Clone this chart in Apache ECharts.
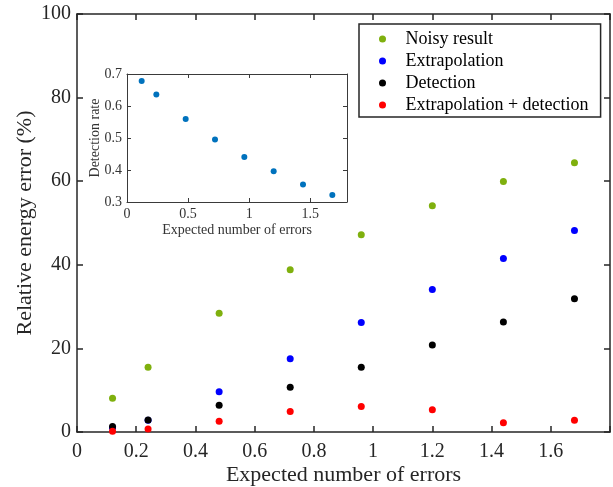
<!DOCTYPE html>
<html>
<head>
<meta charset="utf-8">
<script src="https://cdn.jsdelivr.net/npm/echarts@6/dist/echarts.min.js"></script>
<style>
html,body{margin:0;padding:0;background:#fff;}
#chart{width:613px;height:487px;}
</style>
</head>
<body>
<div id="chart"></div>
<script>
const xVals = [0.12, 0.24, 0.48, 0.72, 0.96, 1.2, 1.44, 1.68];
const noisy = [8.1, 15.5, 28.4, 38.8, 47.2, 54.1, 59.9, 64.4];
const extrap = [1.0, 2.8, 9.6, 17.5, 26.2, 34.1, 41.5, 48.2];
const detect = [1.3, 2.9, 6.4, 10.7, 15.5, 20.8, 26.3, 31.9];
const both = [0.2, 0.7, 2.6, 4.9, 6.1, 5.3, 2.2, 2.8];
const rate = [0.678, 0.636, 0.559, 0.495, 0.441, 0.396, 0.355, 0.322];
const seriesNames = ['Noisy result', 'Extrapolation', 'Detection', 'Extrapolation + detection'];

const pair = arr => xVals.map((x, i) => [x, arr[i]]);
const FONT = '"Liberation Serif", "Times New Roman", serif';
const AX = '#262626';

const mainAxisCommon = {
  type: 'value', gridIndex: 0,
  nameMoveOverlap: false,
  splitLine: {show: false},
  axisLine: {show: true, onZero: false, lineStyle: {color: AX, width: 1.5}},
  axisTick: {show: true, inside: true, length: 6, lineStyle: {color: AX, width: 1.5}}
};
const insetAxisCommon = {
  type: 'value', gridIndex: 1,
  nameMoveOverlap: false,
  splitLine: {show: false},
  axisLine: {show: true, onZero: false, lineStyle: {color: '#3a3a3a', width: 1}},
  axisTick: {show: true, inside: true, length: 4, lineStyle: {color: '#3a3a3a', width: 1}}
};

const chart = echarts.init(document.getElementById('chart'), null, {renderer: 'canvas'});
chart.setOption({
  backgroundColor: '#fff',
  animation: false,
  textStyle: {fontFamily: FONT},
  grid: [
    {left: 77, top: 14, right: 3, bottom: 55, containLabel: false, outerBoundsMode: 'none'},
    {left: 127, top: 74, right: 266, bottom: 285, containLabel: false, outerBoundsMode: 'none'}
  ],
  legend: {
    data: seriesNames,
    orient: 'vertical',
    left: 359, top: 24,
    padding: [6, 12, 3, 20],
    itemWidth: 36, itemHeight: 7, itemGap: 4,
    icon: 'circle',
    borderColor: AX, borderWidth: 1.5,
    backgroundColor: '#fff',
    textStyle: {fontFamily: FONT, fontSize: 18, color: '#000', lineHeight: 18},
    z: 10
  },
  xAxis: [
    Object.assign({}, mainAxisCommon, {
      position: 'bottom', min: 0, max: 1.8, interval: 0.2,
      name: 'Expected number of errors', nameLocation: 'middle', nameGap: 32,
      nameTextStyle: {fontFamily: FONT, fontSize: 22, color: AX},
      axisLabel: {fontFamily: FONT, fontSize: 20, color: AX, margin: 10,
        formatter: v => (v > 1.75 ? '' : String(+v.toFixed(1)))}
    }),
    Object.assign({}, mainAxisCommon, {
      position: 'top', min: 0, max: 1.8, interval: 0.2, axisLabel: {show: false}
    }),
    Object.assign({}, insetAxisCommon, {
      position: 'bottom', min: 0, max: 1.8, interval: 0.5,
      name: 'Expected number of errors', nameLocation: 'middle', nameGap: 21,
      nameTextStyle: {fontFamily: FONT, fontSize: 14, color: '#333'},
      axisLabel: {fontFamily: FONT, fontSize: 14, color: '#333', margin: 5,
        formatter: v => (Math.abs(v * 2 - Math.round(v * 2)) > 1e-6 ? '' : String(+v.toFixed(1)))}
    }),
    Object.assign({}, insetAxisCommon, {
      position: 'top', min: 0, max: 1.8, interval: 0.5, axisLabel: {show: false}
    })
  ],
  yAxis: [
    Object.assign({}, mainAxisCommon, {
      position: 'left', min: 0, max: 100, interval: 20,
      name: 'Relative energy error (%)', nameLocation: 'middle', nameGap: 41,
      nameTextStyle: {fontFamily: FONT, fontSize: 22, color: AX},
      axisLabel: {fontFamily: FONT, fontSize: 20, color: AX, margin: 6}
    }),
    Object.assign({}, mainAxisCommon, {
      position: 'right', min: 0, max: 100, interval: 20, axisLabel: {show: false}
    }),
    Object.assign({}, insetAxisCommon, {
      position: 'left', min: 0.3, max: 0.7, interval: 0.1,
      name: 'Detection rate', nameLocation: 'middle', nameGap: 25,
      nameTextStyle: {fontFamily: FONT, fontSize: 14, color: '#333'},
      axisLabel: {fontFamily: FONT, fontSize: 14, color: '#333', margin: 5,
        formatter: v => v.toFixed(1)}
    }),
    Object.assign({}, insetAxisCommon, {
      position: 'right', min: 0.3, max: 0.7, interval: 0.1, axisLabel: {show: false}
    })
  ],
  series: [
    {name: seriesNames[0], type: 'scatter', xAxisIndex: 0, yAxisIndex: 0, data: pair(noisy), symbolSize: 7, itemStyle: {color: '#7fb00e', opacity: 1}},
    {name: seriesNames[1], type: 'scatter', xAxisIndex: 0, yAxisIndex: 0, data: pair(extrap), symbolSize: 7, itemStyle: {color: '#0000ff', opacity: 1}},
    {name: seriesNames[2], type: 'scatter', xAxisIndex: 0, yAxisIndex: 0, data: pair(detect), symbolSize: 7, itemStyle: {color: '#000000', opacity: 1}},
    {name: seriesNames[3], type: 'scatter', xAxisIndex: 0, yAxisIndex: 0, data: pair(both), symbolSize: 7, itemStyle: {color: '#ff0000', opacity: 1}},
    {name: 'Detection rate', type: 'scatter', xAxisIndex: 2, yAxisIndex: 2, data: pair(rate), symbolSize: 6, itemStyle: {color: '#0072bd', opacity: 1}}
  ]
});
</script>
</body>
</html>
